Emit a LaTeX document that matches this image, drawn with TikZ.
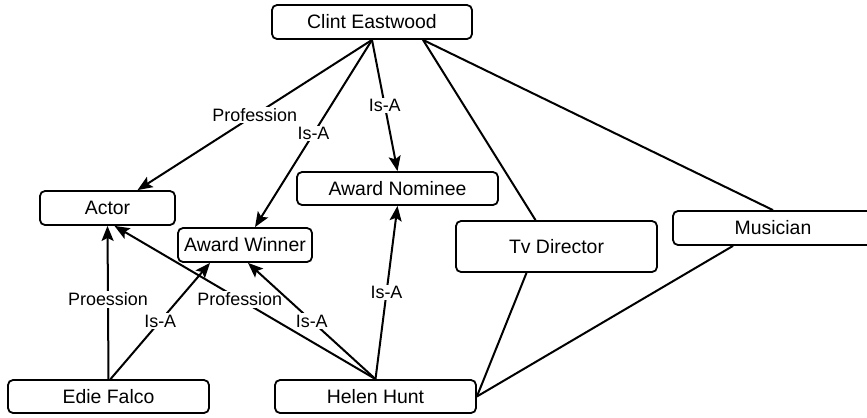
\documentclass[tikz,border=0pt]{standalone}
\usepackage{fontspec}
\setmainfont{Liberation Sans}
\usetikzlibrary{arrows.meta}
\begin{document}
\begin{tikzpicture}[x=1bp,y=-1bp,
  concept/.style={draw, line width=1.8bp, rounded corners=5bp, fill=white,
    inner sep=0pt, align=center, font=\fontsize{19.5}{22}\selectfont},
  rel/.style={line width=2bp},
  isa/.style={rel, -{Stealth[length=15bp,width=12bp,inset=3bp]}},
  lbl/.style={fill=white, inner sep=1.5bp, font=\fontsize{18}{20}\selectfont}]
\useasboundingbox (0,0) rectangle (867,417);

% concepts
\node[concept, minimum width=200bp, minimum height=34bp] (ce)    at (372,22)    {Clint Eastwood};
\node[concept, minimum width=135bp, minimum height=34bp] (actor) at (107.5,208) {Actor};
\node[concept, minimum width=201bp, minimum height=33bp] (an)    at (397.5,188.5) {Award Nominee};
\node[concept, minimum width=134bp, minimum height=34bp] (aw)    at (245,245)   {Award Winner};
\node[concept, minimum width=201bp, minimum height=51bp] (tvd)   at (556.5,246.5) {Tv Director};
\node[concept, minimum width=200bp, minimum height=34bp] (mus)   at (773,228)   {Musician};
\node[concept, minimum width=201bp, minimum height=33bp] (edie)  at (108.5,396.5) {Edie Falco};
\node[concept, minimum width=201bp, minimum height=33bp] (helen) at (375.5,396.5) {Helen Hunt};

% relations from Clint Eastwood
\draw[isa] (ce.south) -- node[lbl] {Profession} ([xshift=30bp]actor.north);
\draw[isa] (ce.south) -- node[lbl] {Is-A} ([xshift=10bp]aw.north);
\draw[isa] (ce.south) -- node[lbl] {Is-A} (an.north);
\draw[rel] ([xshift=51bp]ce.south) -- ([xshift=-21bp]tvd.north);
\draw[rel] ([xshift=51bp]ce.south) -- (mus.north);

% relations from Edie Falco
\draw[isa] (edie.north) -- node[lbl, pos=0.52] {Proession} (actor.south);
\draw[isa] ([xshift=2bp]edie.north) -- node[lbl] {Is-A} ([xshift=-35bp]aw.south);

% relations from Helen Hunt
\draw[isa] (helen.north) -- node[lbl, pos=0.52] {Profession} ([xshift=7bp]actor.south);
\draw[isa] (helen.north) -- node[lbl] {Is-A} ([xshift=3bp]aw.south);
\draw[isa] (helen.north) -- node[lbl] {Is-A} (an.south);
\draw[rel] (helen.east) -- ([xshift=-30bp]tvd.south);
\draw[rel] (helen.east) -- ([xshift=-40bp]mus.south);
\end{tikzpicture}
\end{document}
